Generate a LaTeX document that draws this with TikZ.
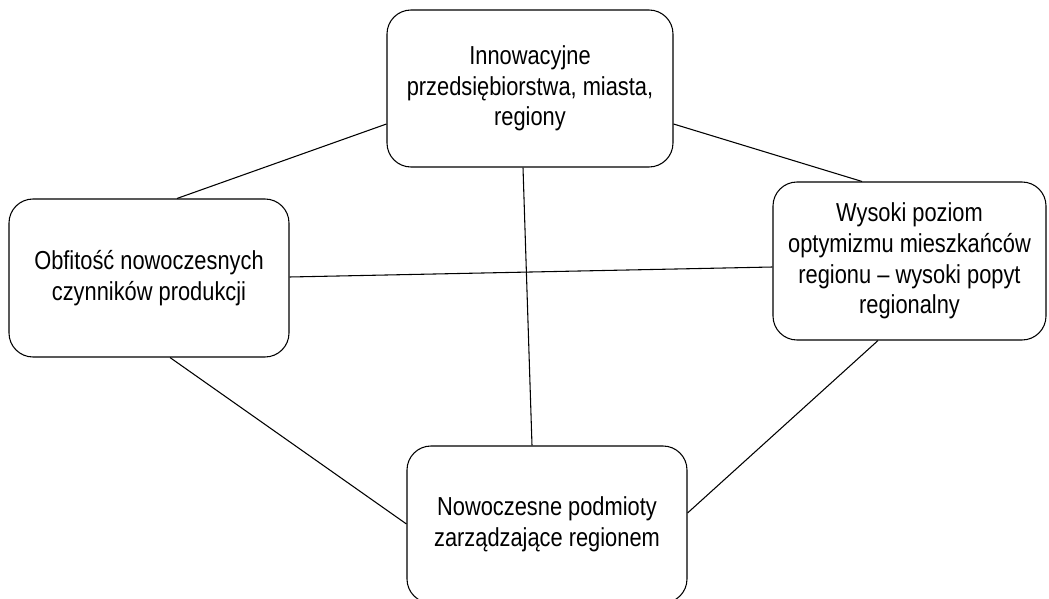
\documentclass[tikz,border=0pt]{standalone}
\usepackage{fontspec}
\setmainfont{Liberation Sans}[FakeStretch=0.84]
\usetikzlibrary{positioning}

\tikzset{
  block/.style={draw, thick, rounded corners=18pt, align=center, inner sep=0pt,
    font=\fontsize{19.5pt}{23pt}\selectfont},
  link/.style={thick}
}

\begin{document}
\begin{tikzpicture}[x=0.75pt, y=-0.75pt]
  \useasboundingbox (0,0) rectangle (1049,599);
  \node[block, minimum width=214.5pt, minimum height=117.75pt] (firmy) at (530,88.5)
    {Innowacyjne\\przedsiębiorstwa, miasta,\\regiony};
  \node[block, minimum width=210pt, minimum height=118.5pt] (czynniki) at (149,278)
    {Obfitość nowoczesnych\\czynników produkcji};
  \node[block, minimum width=204.75pt, minimum height=118.5pt] (popyt) at (909.5,261)
    {Wysoki poziom\\optymizmu mieszkańców\\regionu – wysoki popyt\\regionalny};
  \node[block, minimum width=210pt, minimum height=117.75pt] (zarzad) at (547,524.5)
    {Nowoczesne podmioty\\zarządzające regionem};

  \draw[link] (firmy.west |- 0,124) -- (czynniki.north -| 177,0);
  \draw[link] (firmy.east |- 0,124) -- (popyt.north -| 862,0);
  \draw[link] (czynniki.east |- 0,277) -- (popyt.west |- 0,267);
  \draw[link] (firmy.south -| 523,0) -- (zarzad.north -| 532,0);
  \draw[link] (czynniki.south -| 170,0) -- (zarzad.west |- 0,524);
  \draw[link] (popyt.south -| 878,0) -- (zarzad.east |- 0,513);
\end{tikzpicture}
\end{document}
